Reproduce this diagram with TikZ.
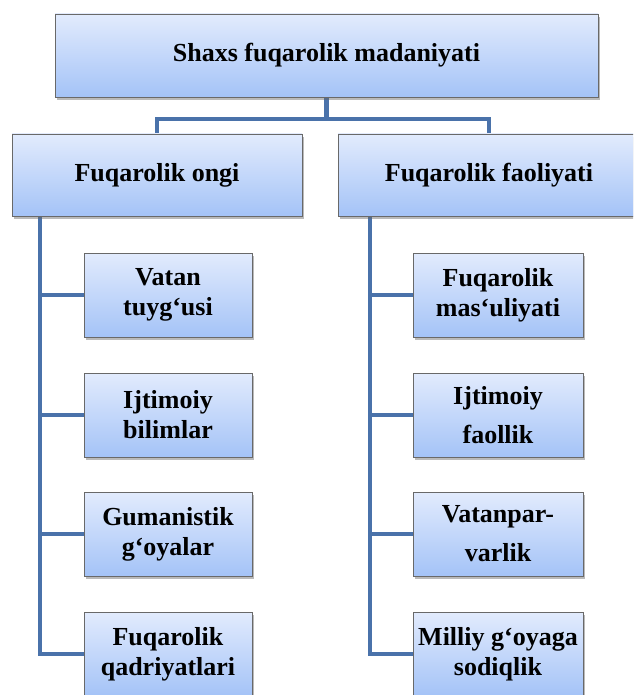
\documentclass[tikz,border=0pt]{standalone}
\usepackage{fontspec}
\setmainfont{Liberation Serif}
\usetikzlibrary{shadows,backgrounds}
\definecolor{conn}{RGB}{74,114,170}
\definecolor{boxtop}{RGB}{226,235,253}
\definecolor{boxbot}{RGB}{164,195,247}
\definecolor{boxline}{RGB}{105,105,105}
\tikzset{
  box/.style={draw=boxline, line width=0.9pt, top color=boxtop, bottom color=boxbot,
    minimum width=#1, inner sep=0pt, align=center,
    font=\bfseries\fontsize{26}{30}\selectfont,
    drop shadow={shadow xshift=2pt, shadow yshift=-3pt, opacity=0.45, fill=black!60}},
  link/.style={draw=conn, line width=4.5pt}
}
\begin{document}
\begin{tikzpicture}[x=1pt,y=-1pt]
\clip (0,0) rectangle (633,695);
% top
\node[box=543pt, minimum height=83pt] (T) at (326.5,55.5) {Shaxs fuqarolik madaniyati};
\node[box=290pt, minimum height=82pt] (L) at (157,175) {Fuqarolik ongi};
\node[box=302pt, minimum height=82pt] (R) at (489,175) {Fuqarolik faoliyati};
% left children
\node[box=168pt, minimum height=84pt] (l1) at (168,295) {Vatan\\tuyg‘usi};
\node[box=168pt, minimum height=84pt] (l2) at (168,415) {Ijtimoiy\\bilimlar};
\node[box=168pt, minimum height=84pt] (l3) at (168,534) {Gumanistik\\g‘oyalar};
\node[box=168pt, minimum height=84pt] (l4) at (168,654) {Fuqarolik\\qadriyatlari};
% right children
\node[box=170pt, minimum height=84pt] (r1) at (498,295) {Fuqarolik\\mas‘uliyati};
\node[box=170pt, minimum height=84pt] (r2) at (498,415) {Ijtimoiy\\[9pt]faollik};
\node[box=170pt, minimum height=84pt] (r3) at (498,534) {Vatanpar-\\[9pt]varlik};
\node[box=170pt, minimum height=84pt] (r4) at (498,654) {Milliy g‘oyaga\\sodiqlik};
\coordinate (j) at (326.5,119);
\coordinate (ls) at (40,216);
\coordinate (rs) at (370,216);
\begin{scope}[on background layer]
\draw[link] (T.south) -- (j);
\draw[link] (L.north) |- (j) -| (R.north);
\draw[link] (ls) -- (ls |- l4.west) -- (l4.west);
\draw[link] (ls |- l1.west) -- (l1.west);
\draw[link] (ls |- l2.west) -- (l2.west);
\draw[link] (ls |- l3.west) -- (l3.west);
\draw[link] (rs) -- (rs |- r4.west) -- (r4.west);
\draw[link] (rs |- r1.west) -- (r1.west);
\draw[link] (rs |- r2.west) -- (r2.west);
\draw[link] (rs |- r3.west) -- (r3.west);
\end{scope}
\end{tikzpicture}
\end{document}
